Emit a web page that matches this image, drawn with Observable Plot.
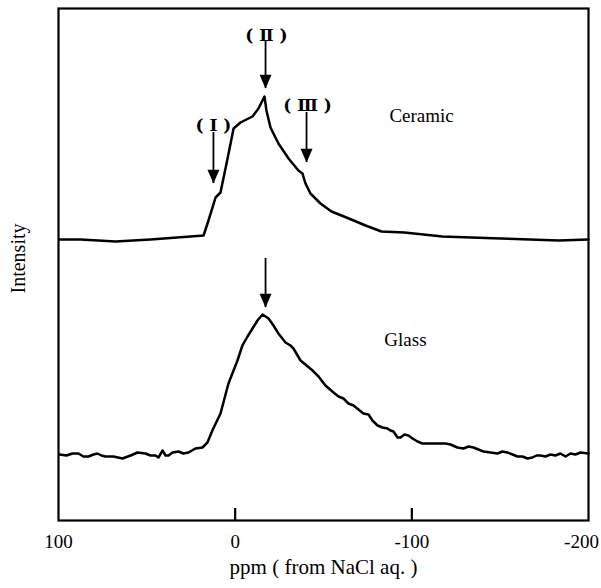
<!DOCTYPE html>
<html>
<head>
<meta charset="utf-8">
<script src="https://cdn.jsdelivr.net/npm/d3@7"></script>
<script src="https://cdn.jsdelivr.net/npm/@observablehq/plot@0.6"></script>
<style>
  html, body { margin: 0; padding: 0; background: #fff; }
</style>
</head>
<body>
<div id="chart"></div>
<script>
// Chemical shift (ppm from NaCl aq.) and intensity (a.u.)
const ceramicPpm = [99.4, 87.5, 67.7, 47.9, 25.3, 17.9, 15.1, 11.1, 8.3, 4.3, 0.9, -3.0, -9.8, -13.2, -16.6, -17.7, -20.0, -24.5, -30.2, -35.8, -38.1, -39.8, -42.6, -48.3, -54.5, -63.0, -73.8, -82.8, -95.8, -117.3, -150.2, -183, -200];
const ceramicInt = [281, 281, 279, 281, 284, 285, 300, 323, 328, 362, 392, 398, 404, 412, 424, 410, 393, 377, 362, 350, 347, 337, 327, 317, 309, 303, 295, 289, 288, 284, 282, 280, 281];

const glassPpm = [99.4, 95.5, 92.1, 88.7, 85.9, 83.0, 80.2, 77.9, 75.7, 73.4, 68.9, 63.8, 59.2, 55.3, 50.8, 47.9, 45.1, 43.4, 41.1, 39.4, 37.7, 35.5, 32.1, 29.3, 26.4, 22.5, 18.5, 15.7, 12.9, 8.3, 3.8, -1.3, -4.1, -7.0, -9.8, -12.6, -15.5, -18.9, -21.7, -24.5, -28.5, -31.3, -33.0, -37.0, -40.4, -43.8, -47.2, -51.1, -55.7, -58.5, -61.3, -64.1, -67.0, -69.8, -72.6, -75.5, -77.7, -80.6, -83.4, -86.2, -87.9, -89.6, -91.9, -93.6, -95.8, -98.1, -100.4, -103.2, -106.0, -108.9, -114.5, -119.0, -121.9, -125.8, -129.2, -132.1, -134.9, -137.7, -140.6, -144.5, -148.5, -151.3, -154.1, -157.0, -159.8, -162.6, -165.5, -168.3, -170.5, -172.8, -175.6, -178.5, -181.3, -184.1, -187.0, -189.8, -192.6, -195.5, -200];
const glassInt = [66, 65, 67, 67, 64, 64, 66, 67, 65, 64, 64, 62, 65, 68, 67, 65, 65, 63, 70, 65, 65, 68, 69, 67, 68, 72, 73, 78, 90, 107, 137, 160, 175, 184, 192, 200, 206, 202, 195, 187, 178, 175, 172, 160, 155, 150, 144, 135, 128, 124, 122, 117, 115, 111, 107, 106, 100, 95, 93, 92, 90, 89, 83, 83, 86, 85, 82, 79, 77, 77, 77, 77, 76, 73, 72, 74, 73, 71, 69, 68, 67, 69, 68, 66, 64, 64, 62, 63, 65, 65, 64, 66, 65, 67, 64, 67, 66, 68, 67];

// Peak-marker arrows
const arrowPpm = [12.3, -17.2, -40.4, -17.2];
const arrowTop = [380, 472, 400, 254];
const arrowTip = [337, 432, 358, 213];

// Peak labels
const peakLabels = ["( Ⅰ )", "( Ⅱ )", "( Ⅲ )"];
const peakLabelPpm = [12.3, -17.7, -41];
const peakLabelInt = [395, 485, 415];

// Sample names
const sampleNames = ["Ceramic", "Glass"];
const sampleNamePpm = [-105.5, -96.4];
const sampleNameInt = [405, 181];

// Axis
const xTickLabels = [100, 0, -100];
const xLastTickLabel = [-200];
const xTickMarks = [0, -100];
const xTitle = "ppm ( from NaCl aq. )";
const yTitle = "Intensity";

const ceramic = ceramicPpm.map((p, i) => ({ppm: p, v: ceramicInt[i]}));
const glass = glassPpm.map((p, i) => ({ppm: p, v: glassInt[i]}));
const arrows = arrowPpm.map((p, i) => ({ppm: p, top: arrowTop[i], tip: arrowTip[i]}));
const peaks = peakLabels.map((t, i) => ({t, ppm: peakLabelPpm[i], v: peakLabelInt[i]}));
const names = sampleNames.map((t, i) => ({t, ppm: sampleNamePpm[i], v: sampleNameInt[i]}));

// Filled arrowhead symbol with its apex at the anchor point, pointing down
const arrowHead = {
  draw(ctx, size) {
    const r = Math.sqrt(size / Math.PI);
    const w = r, h = r * 2.3;
    ctx.moveTo(0, 0);
    ctx.lineTo(-w, -h);
    ctx.lineTo(w, -h);
    ctx.closePath();
  }
};

const chart = Plot.plot({
  width: 601,
  height: 588,
  marginLeft: 58,
  marginRight: 13,
  marginTop: 8,
  marginBottom: 68,
  style: {fontFamily: "'Liberation Serif', 'Times New Roman', 'DejaVu Serif', serif", background: "#fff", overflow: "visible"},
  x: {domain: [100, -200]},
  y: {domain: [0, 512], axis: null},
  marks: [
    Plot.line(ceramic, {x: "ppm", y: "v", stroke: "black", strokeWidth: 2.5, strokeLinejoin: "round"}),
    Plot.line(glass, {x: "ppm", y: "v", stroke: "black", strokeWidth: 2.5, strokeLinejoin: "round"}),
    Plot.ruleX(arrows, {x: "ppm", y1: "tip", y2: "top", stroke: "black", strokeWidth: 1.8, insetBottom: 8}),
    Plot.dot(arrows, {x: "ppm", y: "tip", symbol: arrowHead, r: 6, fill: "black", stroke: "none"}),
    Plot.text(peaks, {x: "ppm", y: "v", text: "t", fontSize: 17, fill: "black", fontFamily: "'DejaVu Serif', 'Liberation Serif', serif", fontWeight: "bold"}),
    Plot.text(names, {x: "ppm", y: "v", text: "t", fontSize: 19, fill: "black"}),
    Plot.ruleX(xTickMarks, {x: d => d, y1: 0, y2: 12, stroke: "black", strokeWidth: 2.2}),
    Plot.axisX(xTickLabels, {tickSize: 0, tickPadding: 14, fontSize: 19, label: null, tickFormat: d => String(d)}),
    Plot.axisX(xLastTickLabel, {tickSize: 0, tickPadding: 14, fontSize: 19, label: null, dx: -7, tickFormat: d => String(d)}),
    Plot.text([xTitle], {frameAnchor: "bottom", dy: 53, text: d => d, fontSize: 21, fill: "black"}),
    Plot.text([yTitle], {frameAnchor: "left", textAnchor: "middle", dx: -40, dy: -6, rotate: -90, text: d => d, fontSize: 20, fill: "black"}),
    Plot.frame({stroke: "black", strokeWidth: 2.2})
  ]
});
document.getElementById("chart").appendChild(chart);
</script>
</body>
</html>
